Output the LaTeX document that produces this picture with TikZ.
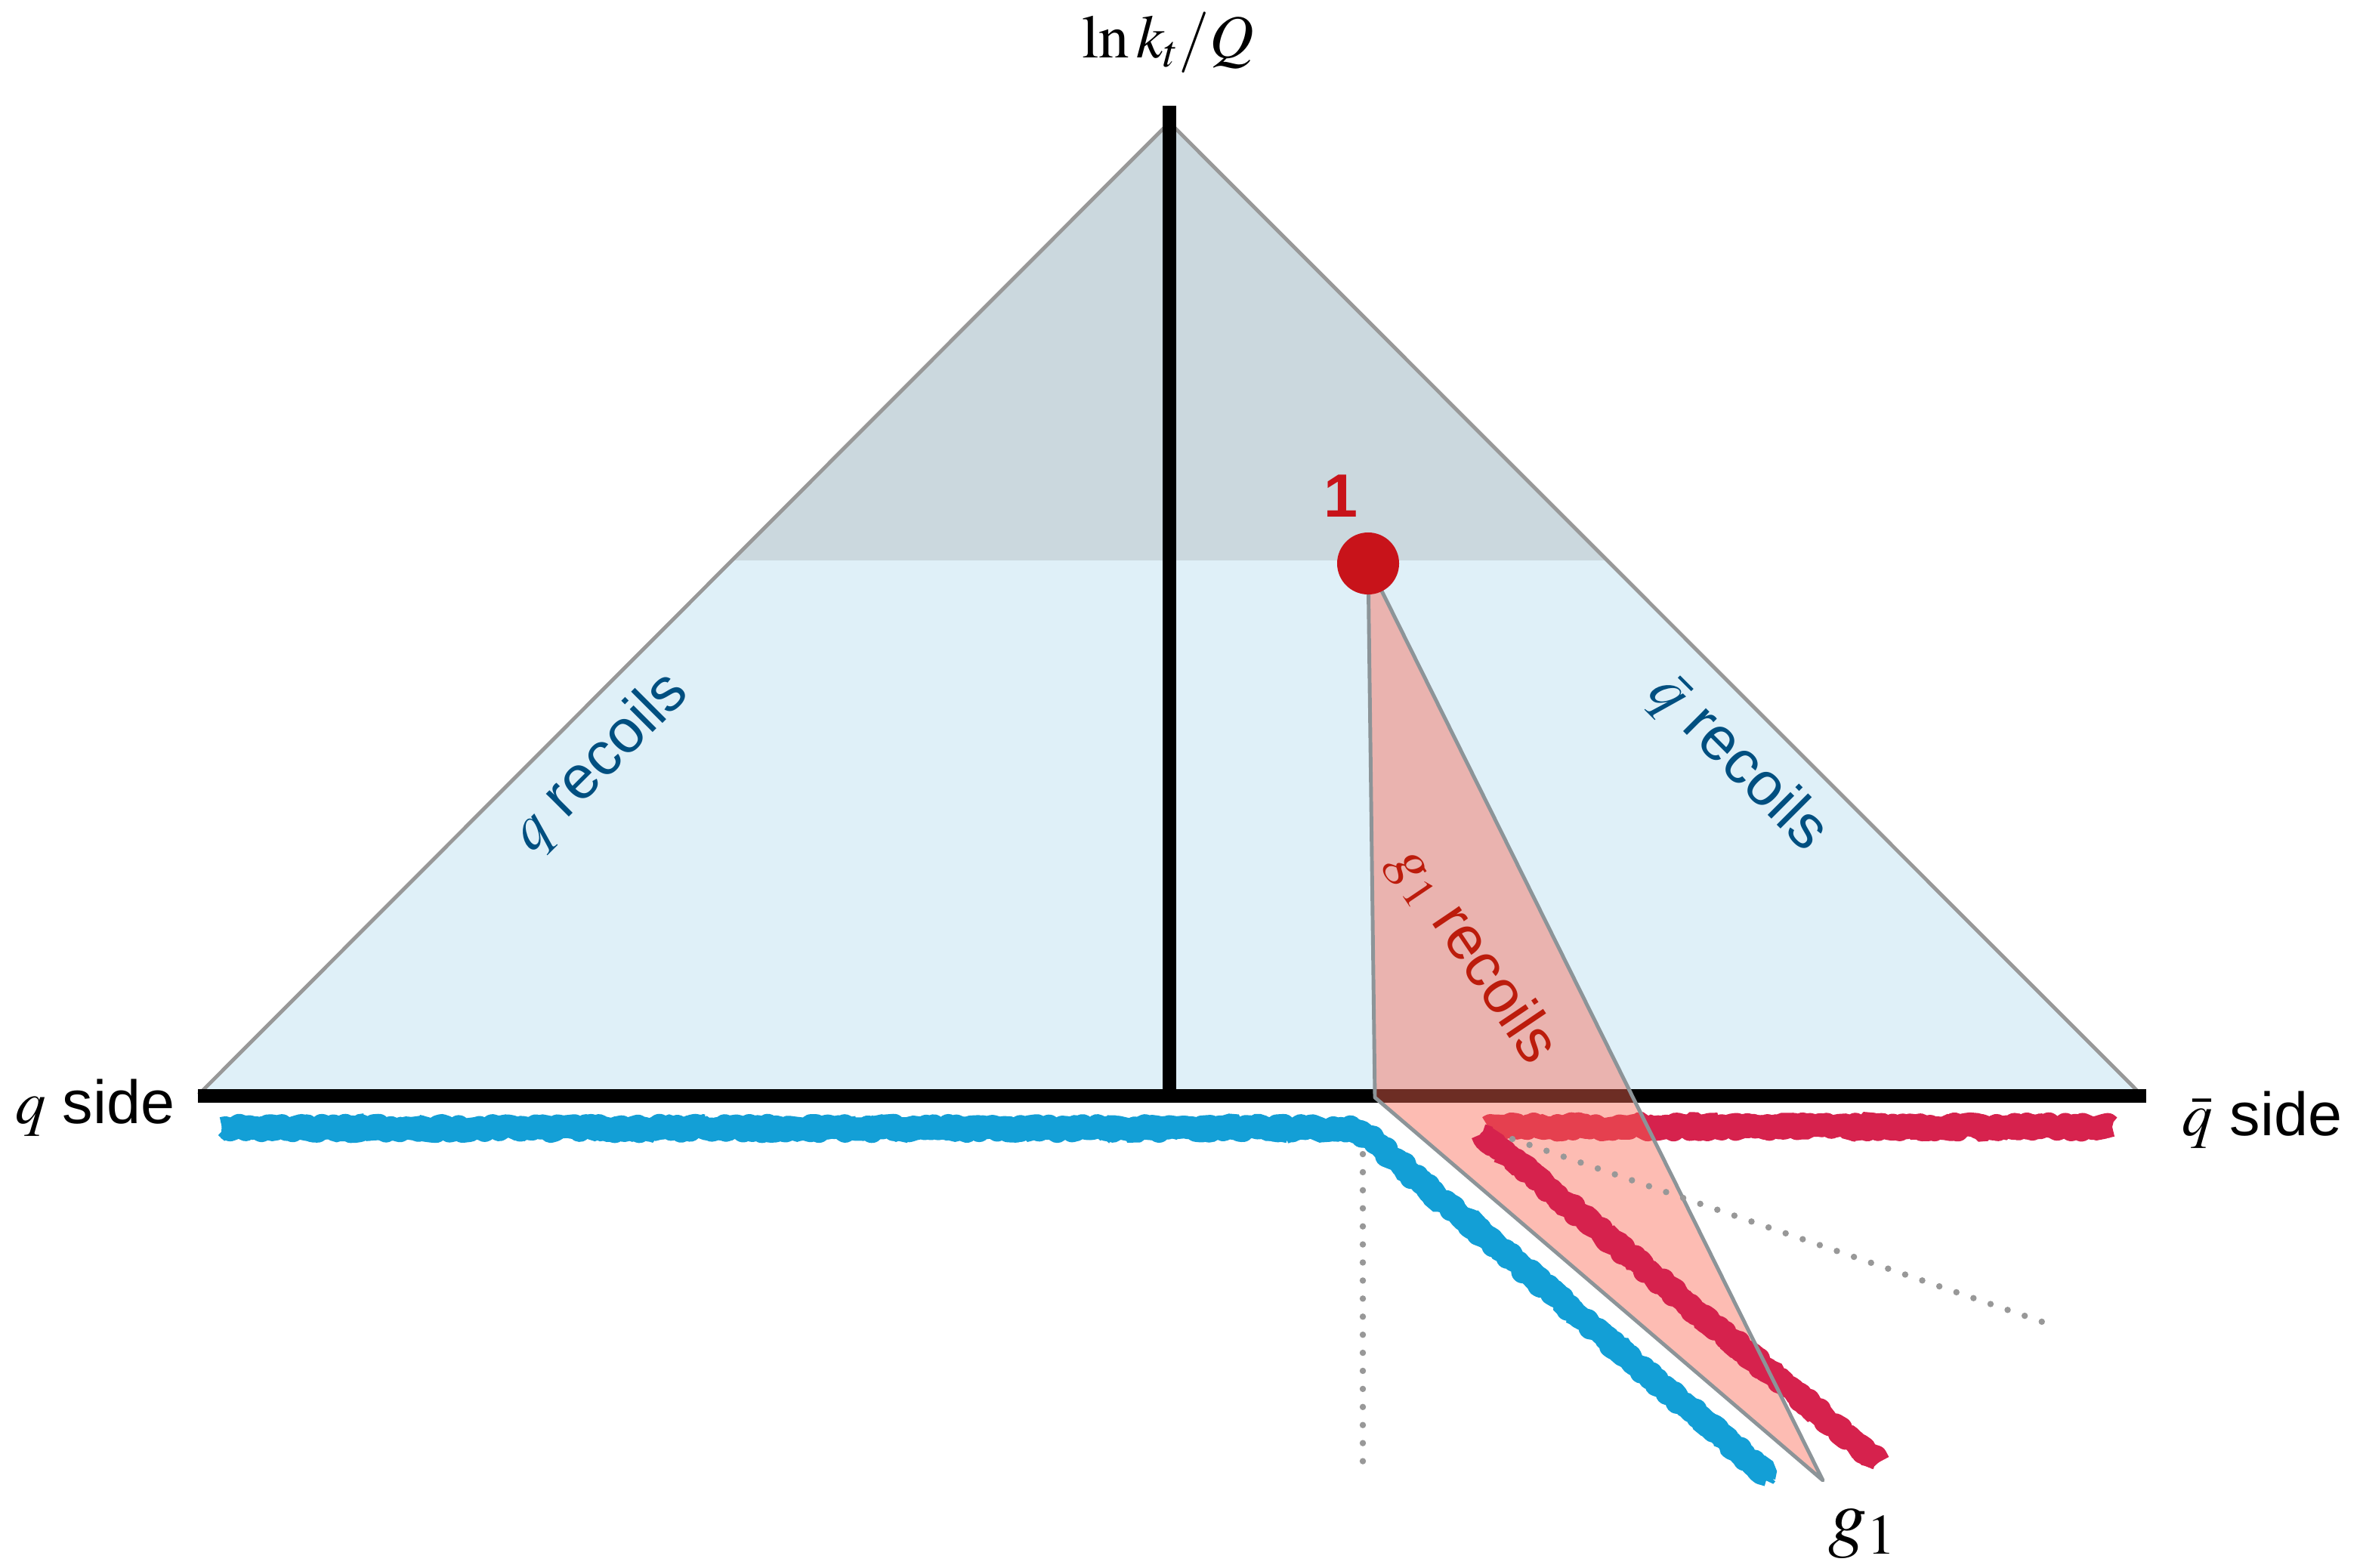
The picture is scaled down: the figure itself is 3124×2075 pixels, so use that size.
\documentclass[tikz,border=0pt]{standalone}
\usepackage{mathptmx}
\usepackage[no-math]{fontspec}
\setmainfont{Liberation Sans}
\usetikzlibrary{decorations.pathmorphing}

\definecolor{shadeblue}{RGB}{223,240,248}
\definecolor{shadegrey}{RGB}{203,216,222}
\definecolor{edgegrey}{RGB}{152,152,152}
\definecolor{coneedge}{RGB}{140,148,152}
\definecolor{labelblue}{RGB}{0,79,128}
\definecolor{emitred}{RGB}{200,19,26}
\definecolor{textred}{RGB}{188,28,12}
\definecolor{chalkblue}{RGB}{19,159,214}
\definecolor{chalkred}{RGB}{214,34,77}
\definecolor{conefill}{RGB}{250,103,82}

\tikzset{
  lbl/.style={font=\fontsize{23}{27}\selectfont, inner sep=0pt},
  axis/.style={line width=5.1pt},
  chalk/.style={line width=8.6pt, line join=round, decorate,
    decoration={random steps, segment length=1.4pt, amplitude=1.2pt}},
  chalkfuzz/.style={line width=7.4pt, line join=bevel, decorate,
    decoration={random steps, segment length=1.8pt, amplitude=2pt}},
  dots/.style={edgegrey, line width=2.4pt, line cap=round, dash pattern=on 0pt off 6.8pt},
}

\begin{document}
\begin{tikzpicture}[x=0.01cm,y=-0.01cm]
  \useasboundingbox (0,0) rectangle (3124,2075);
  \pgfmathsetseed{7}
  % plane
  \coordinate (apex) at (1548,162);
  \coordinate (qend) at (263,1449);
  \coordinate (qbarend) at (2834,1449);
  \fill[shadeblue] (qend) -- (apex) -- (qbarend) -- cycle;
  \begin{scope}
    \clip (qend) -- (apex) -- (qbarend) -- cycle;
    \fill[shadegrey] (0,0) rectangle (3124,742);
  \end{scope}
  \draw[edgegrey, line width=1.4pt] (qend) -- (apex) -- (qbarend);

  % axes
  \coordinate (left) at (262,1451);
  \coordinate (right) at (2841,1451);
  \coordinate (top) at (1548,140);
  \coordinate (origin) at (1548,1451);
  \draw[axis] (left) -- (right);
  \draw[axis] (top) -- (origin);

  % chalk lines
  \coordinate (qstart) at (294,1494);
  \coordinate (qbend) at (1775,1494);
  \coordinate (qturn) at (1820,1513);
  \coordinate (qtip) at (2340,1953);
  \coordinate (rstart) at (1970,1492);
  \coordinate (rend) at (2796,1492);
  \coordinate (gstart) at (1962,1501);
  \coordinate (gtip) at (2487,1936);
  \draw[chalk, chalkblue] (qstart) -- (qbend) .. controls (1800,1494) and (1808,1503) .. (qturn) -- (qtip);
  \draw[chalkfuzz, chalkblue] (qstart) -- (qbend) .. controls (1800,1494) and (1808,1503) .. (qturn) -- (qtip);
  \draw[chalk, chalkred] (rstart) -- (rend);
  \draw[chalkfuzz, chalkred] (rstart) -- (rend);

  % emission cone
  \coordinate (emit) at (1811,746);
  \coordinate (conefoot) at (1820,1453);
  \coordinate (conetip) at (2413,1960);
  \fill[conefill, fill opacity=0.44] (emit) -- (conefoot) -- (conetip) -- cycle;
  \draw[chalk, chalkred] (gstart) -- (gtip);
  \draw[chalkfuzz, chalkred] (gstart) -- (gtip);
  \draw[coneedge, line width=1.4pt, line join=round] (emit) -- (conefoot) -- (conetip) -- cycle;

  % dotted guides
  \draw[dots] (1804,1528) -- (1804,1936);
  \draw[dots] (2002,1508) -- (2706,1751);

  % emission
  \fill[emitred] (emit) circle[radius=0.41cm];
  \node[lbl, font=\fontsize{23}{27}\selectfont\bfseries, text=emitred] (one) at (1775,657) {1};

  % labels
  \node[lbl, anchor=base] (kt) at (1546,76) {$\ln k_t/Q$};
  \node[lbl, anchor=base east] (qside) at (232,1487) {$q$ side};
  \node[lbl, anchor=base west] (qbarside) at (2888,1503) {$\bar{q}$ side};
  \node[lbl, font=\fontsize{29}{33}\selectfont, anchor=base west] (g) at (2420,2042) {$g_1$};
  \node[lbl, text=labelblue, rotate=45] (qrec) at (795,1010) {$q$ recoils};
  \node[lbl, text=labelblue, rotate=-45] (qbarrec) at (2300,1010) {$\bar{q}$ recoils};
  \node[lbl, text=textred, rotate=-56] (grec) at (1950,1265) {$g_1$ recoils};
\end{tikzpicture}
\end{document}
